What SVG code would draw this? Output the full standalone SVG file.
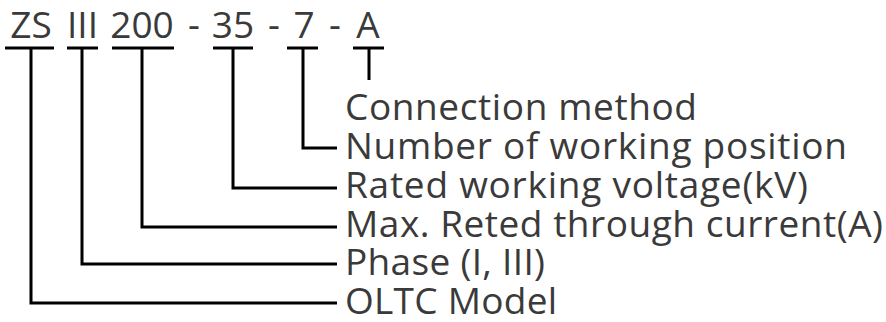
<svg xmlns="http://www.w3.org/2000/svg" width="886" height="322" viewBox="0 0 886 322">
<style>
text{font-family:"Open Sans","Noto Sans","Liberation Sans",sans-serif;font-size:37px;fill:#3a3a3a}
.c{text-anchor:middle}
.ln{fill:none;stroke:#000;stroke-width:3}
</style>
<rect width="886" height="322" fill="#fff"/>
<g id="code">
<text class="c" x="31" y="38">ZS</text>
<text class="c" x="82.5" y="38">III</text>
<text class="c" x="142" y="38">200</text>
<text class="c" x="194" y="38">-</text>
<text class="c" x="233" y="38">35</text>
<text class="c" x="274" y="38">-</text>
<text class="c" x="304" y="38">7</text>
<text class="c" x="335" y="38">-</text>
<text class="c" x="368" y="38">A</text>
</g>
<g id="labels">
<text x="345" y="120" textLength="352">Connection method</text>
<text x="345" y="159" textLength="502">Number of working position</text>
<text x="345" y="198" textLength="463">Rated working voltage(kV)</text>
<text x="345" y="237" textLength="538">Max. Reted through current(A)</text>
<text x="345" y="275" textLength="200">Phase (I, III)</text>
<text x="345" y="314" textLength="212">OLTC Model</text>
</g>
<g id="connectors">
<path class="ln" d="M5 48H54M31 48V303H337"/>
<path class="ln" d="M67 48H98M82 48V264H337"/>
<path class="ln" d="M112 48H174M142 48V227H337"/>
<path class="ln" d="M213 48H253M233 48V188H337"/>
<path class="ln" d="M287 48H318M303 48V148H337"/>
<path class="ln" d="M353 48H384M369 48V80"/>
</g>
</svg>
